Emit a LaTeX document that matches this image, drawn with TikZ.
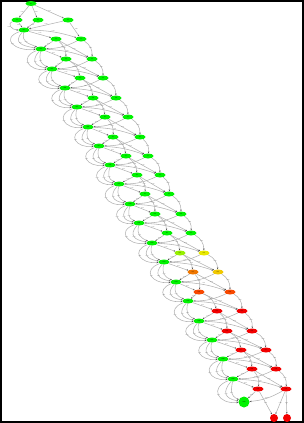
\documentclass[tikz,border=0pt]{standalone}
\usepackage{fontspec}
\setmainfont{Liberation Serif}
\usetikzlibrary{arrows.meta,shapes.geometric}
\definecolor{sgreen}{RGB}{0,242,0}
\definecolor{slime}{RGB}{150,240,0}
\definecolor{syellow}{RGB}{232,232,0}
\definecolor{sorange}{RGB}{238,118,0}
\definecolor{samber}{RGB}{240,200,0}
\definecolor{sored}{RGB}{248,72,0}
\definecolor{sred}{RGB}{242,0,0}
\definecolor{edgegray}{RGB}{178,178,178}
\tikzset{
  chain/.style={ellipse,fill=#1,inner sep=0pt,minimum width=11pt,minimum height=5pt,
    font=\fontsize{1.6}{1.9}\selectfont},
  chain/.default=sgreen,
  sink/.style={circle,fill=#1,inner sep=0pt,minimum size=8pt,font=\fontsize{1.6}{1.9}\selectfont},
  trans/.style={draw=edgegray,line width=0.55pt,
    -{Stealth[length=1.8pt,width=1.4pt,color=black!70]}},
  prob/.style={font=\fontsize{1.5}{1.8}\selectfont,text=black!65,inner sep=0.3pt},
}

\begin{document}
\begin{tikzpicture}[x=1pt,y=-1pt]
  \useasboundingbox (0,0) rectangle (304,423);
  \draw[line width=1.6pt] (0.8,0.8) rectangle (303.2,422.2);

  \node[chain] (t) at (31,3.5) {s0};
  \node[chain] (a1) at (17,20) {s1};
  \node[chain] (a2) at (38,20) {s2};
  \node[chain] (a3) at (68,20) {s3};

  \foreach \i/\mx/\my/\lx/\rx/\cy/\lc/\rc in {
      1/24/30/56/81/39/sgreen/sgreen, 2/41/49/66/92/59/sgreen/sgreen,
      3/52/69/80/103/78/sgreen/sgreen, 4/65/88/93/116/98/sgreen/sgreen,
      5/77/107/105/128/117/sgreen/sgreen, 6/88/127/113/140/137/sgreen/sgreen,
      7/99/146/126/148/156/sgreen/sgreen, 8/110/165/137/160/175/sgreen/sgreen,
      9/119/184/145/169/194/sgreen/sgreen, 10/130/204/155/181/214/sgreen/sgreen,
      11/139/223/167/191/233/sgreen/sgreen, 12/152/243/180/204/253/slime/syellow,
      13/164/262/193/218/272/sorange/samber, 14/176/282/199/230/292/sored/sored,
      15/188/301/217/242/311/sred/sred, 16/199/321/227/252/331/sred/sred,
      17/212/340/241/266/350/sred/sred, 18/223/359/252/276/369/sred/sred,
      19/233/379/258/286/389/sred/sred}{
    \node[chain] (m\i) at (\mx,\my) {m\i};
    \node[chain=\lc] (l\i) at (\lx,\cy) {l\i};
    \node[chain=\rc] (r\i) at (\rx,\cy) {r\i};
  }
  \node[sink=sgreen,minimum size=11pt] (m20) at (244,402) {m20};
  \node[sink=sred] (b1) at (274,418) {};
  \node[sink=sred] (b2) at (287,418) {};

  \draw[trans] (t) -- node[prob,left] {0.40} (a1);
  \draw[trans] (t) -- node[prob,right] {0.30} (a2);
  \draw[trans] (t) -- node[prob,above] {0.30} (a3);
  \draw[trans] (a1) -- node[prob,left] {0.60} (m1);
  \draw[trans] (a1) to[out=200,in=180,looseness=1.6] node[prob,left] {0.40} (m1);
  \draw[trans] (a2) -- node[prob,right] {0.50} (m1);
  \draw[trans] (a3) -- node[prob,above] {0.20} (m1);
  \draw[trans] (a3) -- node[prob,right] {0.80} (r1);

  \foreach \i in {1,...,19}{
    \pgfmathtruncatemacro\j{\i+1}
    \draw[trans] (m\i) -- node[prob,above] {0.25} (l\i);
    \draw[trans] (m\i) to[bend left=8] node[prob,above] {0.25} (r\i);
    \draw[trans] (l\i) -- node[prob] {0.30} (m\j);
    \draw[trans] (r\i) to[bend left=12] node[prob] {0.20} (m\j);
    \draw[trans] (m\i) to[out=260,in=155,looseness=1.3] node[prob] {0.10} (m\j);
    \draw[trans] (m\i) to[out=230,in=170,looseness=1.7] node[prob] {0.10} (m\j);
    \draw[trans] (m\i) to[out=200,in=185,looseness=2.2] node[prob] {0.05} (m\j);
  }
  \foreach \i in {1,...,18}{
    \pgfmathtruncatemacro\j{\i+1}
    \draw[trans] (l\i) to[bend left=25] node[prob] {0.40} (l\j);
    \draw[trans] (r\i) to[bend left=30] node[prob] {0.60} (r\j);
    \draw[trans] (l\i) -- node[prob] {0.30} (r\j);
  }
  \draw[trans] (l19) -- node[prob] {0.50} (b1);
  \draw[trans] (r19) -- node[prob] {0.50} (b2);
  \draw[trans] (r19) -- node[prob] {0.20} (b1);
\end{tikzpicture}
\end{document}
